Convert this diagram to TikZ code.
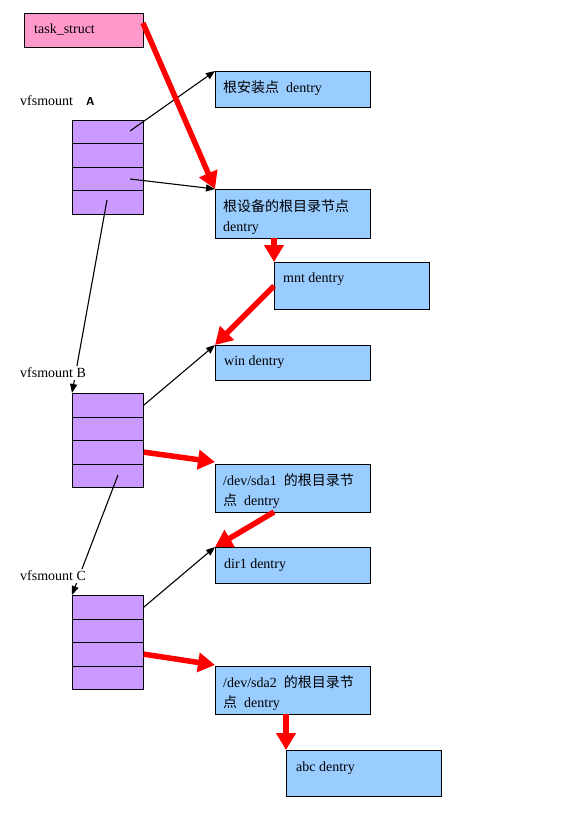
\documentclass[tikz,border=0pt]{standalone}
\usepackage{fontspec}
\setmainfont{Liberation Serif}
\newfontfamily\cjk{Noto Sans CJK SC}
\usetikzlibrary{arrows.meta}
\definecolor{pinkbox}{HTML}{FF99CC}
\definecolor{lav}{HTML}{CC99FF}
\definecolor{dblue}{HTML}{99CCFF}
\begin{document}
\begin{tikzpicture}[x=1pt,y=-1pt,
  ptr/.style={-{Triangle[length=9pt,width=7pt]}, line width=1.1pt, black},
  redarr/.style={-{Triangle[length=17pt,width=19pt]}, line width=5.5pt, red},
  dbox/.style={draw, fill=dblue, anchor=north west, inner sep=0pt, line width=0.8pt, minimum width=155pt},
  cell/.style={draw, fill=lav, anchor=north west, minimum width=71pt, minimum height=23.5pt, inner sep=0pt, line width=0.8pt},
  txt/.style={anchor=west, inner sep=0pt, align=left, font=\fontsize{14}{20.5}\selectfont},
  lbl/.style={anchor=west, inner sep=2pt, fill=white, font=\fontsize{14}{16}\selectfont}
]
\useasboundingbox (0,0) rectangle (585,834);
\fill[white] (0,0) rectangle (585,834);

% boxes
\node[draw, fill=pinkbox, anchor=north west, inner sep=0pt, line width=0.8pt, minimum width=119pt, minimum height=34pt] (task) at (24,13) {};
\node[dbox, minimum height=36pt] (mroot) at (215,71) {};
\node[dbox, minimum height=49pt] (rootdev) at (215,189) {};
\node[dbox, minimum height=47pt] (mnt) at (274,262) {};
\node[dbox, minimum height=35pt] (win) at (215,345) {};
\node[dbox, minimum height=48pt] (sda1) at (215,464) {};
\node[dbox, minimum height=36pt] (dir1) at (215,547) {};
\node[dbox, minimum height=48pt] (sda2) at (215,666) {};
\node[dbox, minimum height=46pt] (abc) at (286,750) {};

% texts
\node[txt] (ttask) at (34,30) {task\_struct};
\node[txt] (tmroot) at (223,88) {{\cjk 根安装点}\ \ dentry};
\node[txt] (trootdev) at (223,217) {{\cjk 根设备的根目录节点}\\dentry};
\node[txt] (tmnt) at (283,279) {mnt dentry};
\node[txt] (twin) at (224,362) {win dentry};
\node[txt] (tsda1) at (223,491) {/dev/sda1\ \ {\cjk 的根目录节}\\{\cjk 点}\ \ dentry};
\node[txt] (tdir1) at (224,565) {dir1 dentry};
\node[txt] (tsda2) at (223,693) {/dev/sda2\ \ {\cjk 的根目录节}\\{\cjk 点}\ \ dentry};
\node[txt] (tabc) at (296,768) {abc dentry};

% vfsmount stacks
\foreach \n/\y in {A/120, B/393, C/595} {
  \node[cell] (\n1) at (72,\y) {};
  \node[cell] (\n2) at (72,\y+23.5) {};
  \node[cell] (\n3) at (72,\y+47) {};
  \node[cell] (\n4) at (72,\y+70.5) {};
}

% connector start points
\coordinate (taskp) at (143,23);
\coordinate (a1p) at (130,131);
\coordinate (a3p) at (130,179);
\coordinate (a4p) at (107,200);
\coordinate (b4p) at (118,475);
\coordinate (rdp) at (274,238);
\coordinate (s1p) at (274,512);
\coordinate (s2p) at (286,714);

% black pointers
\draw[ptr] (a1p) -- (mroot.north west);
\draw[ptr] (a3p) -- (rootdev.north west);
\draw[ptr] (a4p) -- (B1.north west);
\draw[ptr] (B1.east) -- (win.north west);
\draw[ptr] (b4p) -- (C1.north west);
\draw[ptr] (C1.east) -- (dir1.north west);

% red arrows
\draw[redarr] (taskp) -- (rootdev.north west);
\draw[redarr] (rdp) -- (mnt.north west);
\draw[redarr] (mnt.west) -- (win.north west);
\draw[redarr] (B3.east) -- ([yshift=2pt]sda1.north west);
\draw[redarr] (s1p) -- (dir1.north west);
\draw[redarr] (C3.east) -- ([yshift=1pt]sda2.north west);
\draw[redarr] (s2p) -- (abc.north west);

% labels
\node[lbl] (lA) at (18,101) {vfsmount};
\node[anchor=west, inner sep=0pt, font=\sffamily\bfseries\fontsize{11.5}{13}\selectfont] (lAA) at (86,102) {A};
\node[lbl] (lB) at (18,373) {vfsmount B};
\node[lbl] (lC) at (18,576) {vfsmount C};
\end{tikzpicture}
\end{document}
